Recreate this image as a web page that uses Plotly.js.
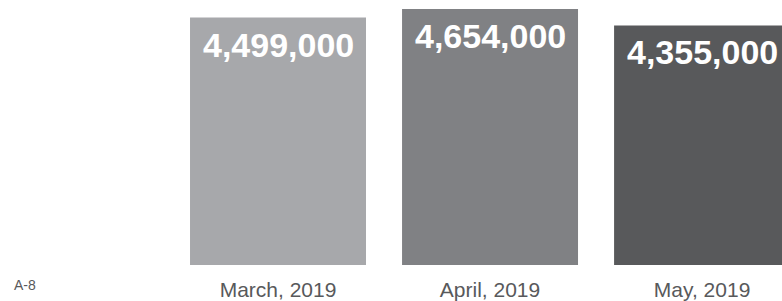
<!DOCTYPE html>
<html>
<head>
<meta charset="utf-8">
<script src="https://cdn.plot.ly/plotly-3.0.1.min.js"></script>
<style>html,body{margin:0;padding:0;background:#fff;}#chart{width:782px;height:301px;}</style>
</head>
<body>
<div id="chart"></div>
<script>
const categories = ["March, 2019", "April, 2019", "May, 2019"];
const values = [4499000, 4654000, 4355000];
const valueLabels = ["4,499,000", "4,654,000", "4,355,000"];
const barColors = ["#a7a8ab", "#808184", "#58595b"];
const pageLabel = "A-8";

const trace = {
  type: "bar",
  x: categories,
  y: values,
  marker: {color: barColors, line: {width: 0}},
  width: 0.83,
  hoverinfo: "none"
};

const annotations = categories.map((c, i) => ({
  x: c, y: values[i], xref: "x", yref: "y",
  text: valueLabels[i], showarrow: false,
  yanchor: "top", yshift: -6,
  font: {family: "Liberation Sans, Arial, sans-serif", size: 34, color: "#ffffff", weight: "bold"}
}));
annotations.push({
  xref: "paper", yref: "paper", x: 0, y: 0, xanchor: "left", yanchor: "middle",
  text: pageLabel, showarrow: false, xshift: -160, yshift: -20,
  font: {family: "Liberation Sans, Arial, sans-serif", size: 14, color: "#58595b"}
});

const layout = {
  width: 782, height: 301,
  margin: {l: 172, r: 0, t: 9, b: 36},
  paper_bgcolor: "#ffffff", plot_bgcolor: "#ffffff",
  showlegend: false,
  xaxis: {
    type: "category", range: [-0.5, 2.377],
    showgrid: false, zeroline: false, showline: false, ticks: "",
    ticklabelstandoff: 10,
    tickfont: {family: "Liberation Sans, Arial, sans-serif", size: 21, color: "#58595b"}
  },
  yaxis: {
    range: [0, 4654000], visible: false, showgrid: false, zeroline: false
  },
  annotations: annotations
};

Plotly.newPlot("chart", [trace], layout, {displayModeBar: false, staticPlot: true});
</script>
</body>
</html>
